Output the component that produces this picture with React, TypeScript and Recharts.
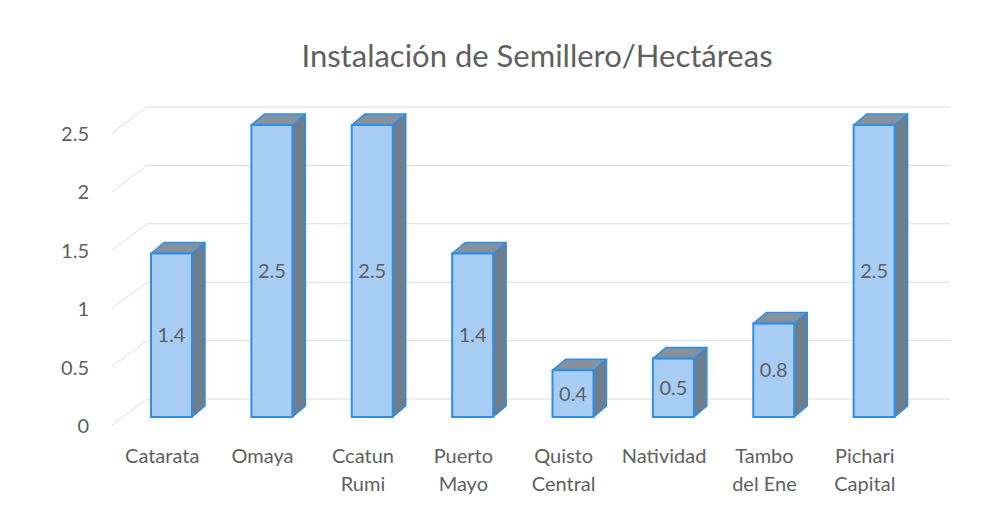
import { BarChart, Bar, XAxis, YAxis, CartesianGrid, LabelList } from 'recharts';

const categories = [
  'Catarata',
  'Omaya',
  'Ccatun Rumi',
  'Puerto Mayo',
  'Quisto Central',
  'Natividad',
  'Tambo del Ene',
  'Pichari Capital',
];
const hectareas = [1.4, 2.5, 2.5, 1.4, 0.4, 0.5, 0.8, 2.5];
const yTicks = [0, 0.5, 1, 1.5, 2, 2.5];

const data = categories.map((name, i) => ({ name, value: hectareas[i] }));

const FONT = 'Lato, "Open Sans", sans-serif';
const TEXT = '#5f5f5f';
const DX = 13;
const DY = -11;

function Bar3D(props: any) {
  const { x, y, width, height } = props;
  if (height <= 0) return null;
  const side = `${x + width},${y} ${x + width + DX},${y + DY} ${x + width + DX},${y + height + DY} ${x + width},${y + height}`;
  const top = `${x},${y} ${x + DX},${y + DY} ${x + width + DX},${y + DY} ${x + width},${y}`;
  return (
    <g>
      <polygon points={side} fill="#6f7e8c" stroke="#2f8fe6" strokeWidth={1.5} strokeLinejoin="round" />
      <polygon points={top} fill="#8492a0" stroke="#2f8fe6" strokeWidth={1.5} strokeLinejoin="round" />
      <rect x={x} y={y} width={width} height={height} fill="#a7cdf5" stroke="#2f8fe6" strokeWidth={2} />
    </g>
  );
}

function GridLine(props: any) {
  const { y1, x2, key } = props;
  return (
    <g key={key}>
      <line x1={112} y1={y1 + 8} x2={147} y2={y1 - 18} stroke="#dcdcdc" strokeWidth={1} />
      <line x1={147} y1={y1 - 18} x2={x2 + 26} y2={y1 - 18} stroke="#dcdcdc" strokeWidth={1} />
    </g>
  );
}

function YTick(props: any) {
  const { y, payload } = props;
  return (
    <text x={89} y={y + 9} dy={7} textAnchor="end" fill={TEXT} fontSize={20} fontFamily={FONT}>
      {payload.value}
    </text>
  );
}

function XTick(props: any) {
  const { x, payload } = props;
  const label: string = payload.value;
  const idx = label.indexOf(' ');
  const lines = idx > 0 ? [label.slice(0, idx), label.slice(idx + 1)] : [label];
  return (
    <text textAnchor="middle" fill={TEXT} fontSize={20} fontFamily={FONT}>
      {lines.map((l, i) => (
        <tspan key={i} x={x - 9} y={463 + i * 28}>
          {l}
        </tspan>
      ))}
    </text>
  );
}

export default function App() {
  return (
    <div style={{ position: 'absolute', left: 0, top: 0, width: 1007, height: 511, background: '#fff' }}>
      <BarChart
        width={1007}
        height={511}
        data={data}
        margin={{ top: 125, right: 83, left: 0, bottom: 34 }}
        barSize={41}
      >
        <text x={537} y={67} textAnchor="middle" fill={TEXT} fontSize={31} fontFamily={FONT}>
          Instalación de Semillero/Hectáreas
        </text>
        <CartesianGrid vertical={false} horizontal={GridLine} />
        <XAxis dataKey="name" height={60} axisLine={false} tickLine={false} interval={0} tick={XTick} />
        <YAxis
          domain={[0, 2.5]}
          ticks={yTicks}
          width={121}
          axisLine={false}
          tickLine={false}
          tick={YTick}
        />
        <Bar dataKey="value" shape={Bar3D} isAnimationActive={false}>
          <LabelList dataKey="value" position="center" fill={TEXT} fontSize={20} fontFamily={FONT} />
        </Bar>
      </BarChart>
    </div>
  );
}
